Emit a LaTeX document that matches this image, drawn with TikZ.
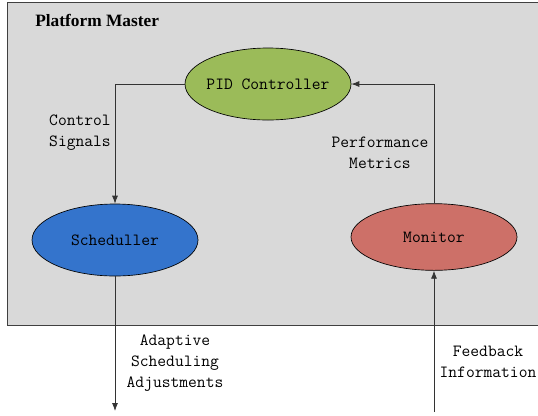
\documentclass[tikz,border=0pt]{standalone}
\usepackage{fontspec}
\setmainfont{Liberation Serif}
\usepackage{tikz}
\usetikzlibrary{shapes, arrows.meta, positioning, calc}

\definecolor{mastergray}{RGB}{217, 217, 217}
\definecolor{pidgreen}{RGB}{155, 187, 89}
\definecolor{schedblue}{RGB}{52, 116, 204}
\definecolor{monred}{RGB}{205, 112, 104}

\begin{document}
\begin{tikzpicture}[x=0.75pt, y=-0.75pt,
    block/.style={ellipse, draw=black, line width=0.5pt, inner xsep=-10pt, minimum width=124.5pt, minimum height=54pt,
      font=\fontsize{12.8}{14}\ttfamily},
    link/.style={draw=black!80, line width=0.6pt, -{Latex[length=6pt, width=4.5pt]}},
    lbl/.style={font=\fontsize{12.8}{15.6}\ttfamily, align=center}]
  \clip (0,0) rectangle (538,415);
  \useasboundingbox (0,0) rectangle (538,415);

  % platform master box
  \node[draw=black!75, line width=0.8pt, fill=mastergray, minimum width=400pt, minimum height=242.25pt,
    anchor=north west, inner sep=0pt] (master) at (7,2) {};
  \node[font=\bfseries\fontsize{13}{15}\selectfont, anchor=west, inner sep=0pt] (title) at (35,20) {Platform Master};

  % components
  \node[block, fill=pidgreen] (pid) at (268,84) {PID Controller};
  \node[block, fill=schedblue] (sched) at (115,240) {Scheduller};
  \node[block, fill=monred, minimum height=50pt] (mon) at (434,237) {Monitor};

  \coordinate (out) at (115,411);
  \coordinate (in) at (434,412);

  % connections
  \draw[link] (pid.west) -| (sched.north);
  \draw[link] (mon.north) |- (pid.east);
  \draw[link] (sched.south) -- (out);
  \draw[link] (in) -- (mon.south);

  % labels
  \node[lbl] (ctrl) at (80,133) {Control\\Signals};
  \node[lbl] (perf) at (380,153) {Performance\\Metrics};
  \node[lbl] (adapt) at (175,363) {Adaptive\\Scheduling\\Adjustments};
  \node[lbl] (feed) at (488,362) {Feedback\\Information};
\end{tikzpicture}
\end{document}
